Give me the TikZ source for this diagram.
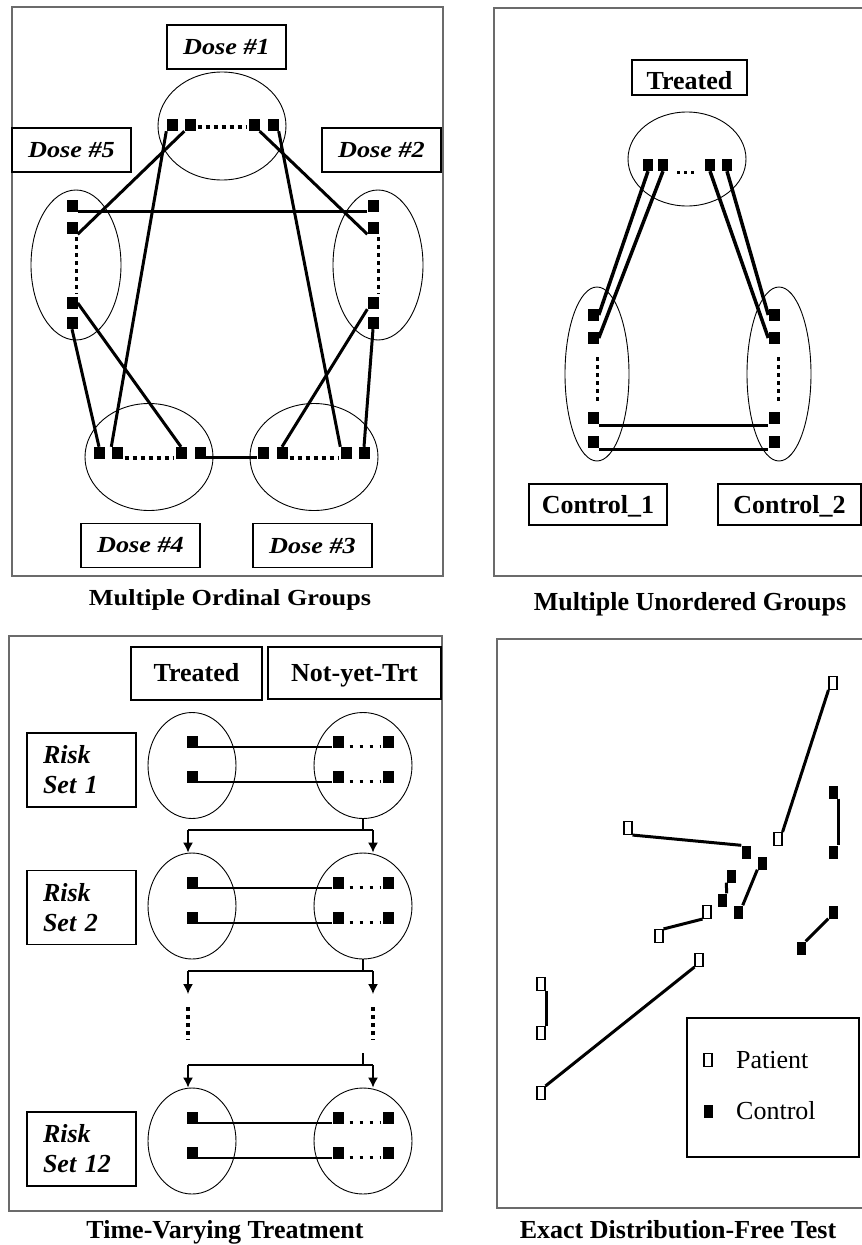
\documentclass[tikz,border=0pt]{standalone}
\usepackage{fontspec}
\setmainfont{Liberation Serif}
\newfontfamily\tlfont{Liberation Serif}[FakeStretch=1.14]
\usetikzlibrary{shapes.geometric,arrows.meta,calc,backgrounds}
\begin{document}
\begin{tikzpicture}[x=1pt,y=-1pt,
  sq/.style={fill=black, inner sep=0pt, minimum width=11pt, minimum height=12pt},
  ell/.style={draw, ellipse, line width=0.9pt, inner sep=0pt},
  frame/.style={draw=black!58, line width=1.2pt},
  conn/.style={line width=3pt},
  tconn/.style={line width=3.5pt},
  thinconn/.style={line width=1.6pt},
  dotsv/.style={line width=3.2pt, dash pattern=on 4pt off 4pt},
  smalldots/.style={line width=3.2pt, dash pattern=on 3pt off 7pt},
  arr/.style={line width=1.4pt, -{Latex[length=10pt,width=10pt]}},
  stem/.style={line width=1.4pt},
  dlab/.style={draw, line width=1.1pt, inner sep=0pt, minimum width=119pt, minimum height=44pt, font=\tlfont\fontsize{23}{27}\selectfont\bfseries\itshape},
  blab/.style={draw, line width=1.1pt, inner sep=0pt, text height=18pt, text depth=3pt, font=\fontsize{26}{30}\selectfont\bfseries},
  rlab/.style={draw, line width=1.1pt, inner xsep=16pt, inner ysep=0pt, minimum width=109pt, minimum height=74pt, text width=77pt, align=left, font=\fontsize{26}{30}\selectfont\bfseries\itshape},
  captxt/.style={anchor=base, font=\fontsize{26}{30}\selectfont\bfseries},
  pat/.style={draw, line width=1.1pt, fill=white, inner sep=0pt, minimum width=8pt, minimum height=13pt},
  ctl/.style={fill=black, inner sep=0pt, minimum width=9pt, minimum height=13pt},
  pl/.style={line width=3pt},
  legtxt/.style={anchor=west, inner sep=0pt, font=\fontsize{26}{30}\selectfont}
]
\useasboundingbox (0,0) rectangle (862,1245);

% ================= Panel 1: Multiple Ordinal Groups =================
\draw[frame] (12,7) rectangle (443,576);
\node[dlab] (D1) at (226.5,47) {Dose \#1};
\node[dlab] (D5) at (71.5,150) {Dose \#5};
\node[dlab] (D2) at (381.5,150) {Dose \#2};
\node[dlab] (D4) at (140.5,545.5) {Dose \#4};
\node[dlab] (D3) at (312.5,545.5) {Dose \#3};

\node[ell, minimum width=128pt, minimum height=108pt] (E1) at (222,126) {};
\node[ell, minimum width=90pt, minimum height=150pt] (E5) at (76,265) {};
\node[ell, minimum width=90pt, minimum height=150pt] (E2) at (378,265) {};
\node[ell, minimum width=128pt, minimum height=107pt] (E4) at (149,457) {};
\node[ell, minimum width=128pt, minimum height=107pt] (E3) at (314,457) {};

\node[sq] (a1) at (172,125) {};
\node[sq] (a2) at (190,125) {};
\node[sq] (a3) at (254,125) {};
\node[sq] (a4) at (273,125) {};
\node[sq] (e1) at (72,206) {};
\node[sq] (e2) at (72,228) {};
\node[sq] (e3) at (72,303) {};
\node[sq] (e4) at (72,323) {};
\node[sq] (b1) at (373,206) {};
\node[sq] (b2) at (373,228) {};
\node[sq] (b3) at (373,303) {};
\node[sq] (b4) at (373,323) {};
\node[sq] (d1) at (99,453) {};
\node[sq] (d2) at (117,453) {};
\node[sq] (d3) at (181,453) {};
\node[sq] (d4) at (200,453) {};
\node[sq] (c1) at (263,453) {};
\node[sq] (c2) at (282,453) {};
\node[sq] (c3) at (346,453) {};
\node[sq] (c4) at (364,453) {};

\begin{scope}[on background layer]
\draw[conn] (a1.south west) -- (d2.north west);
\draw[conn] (a2.south west) -- (e2.south east);
\draw[conn] (a3.south east) -- (b2.south west);
\draw[conn] (a4.south east) -- (c3.north west);
\draw[conn] ($(e1.south east)+(0,-1)$) -- ($(b1.south west)+(0,-1)$);
\draw[conn] (e3.east) -- (d3.north);
\draw[conn] (e4.south) -- (d1.north);
\draw[conn] (b3.south west) -- (c2.north);
\draw[conn] (b4.south) -- (c4.north);
\draw[conn] ($(d4.south east)+(0,-1.5)$) -- ($(c1.south west)+(0,-1.5)$);
\draw[dotsv] ($(a2.east)+(2,2)$) -- ($(a3.west)+(-1,2)$);
\draw[dotsv] ($(d2.east)+(2,5)$) -- ($(d3.west)+(-1,5)$);
\draw[dotsv] ($(c2.east)+(2,5)$) -- ($(c3.west)+(-1,5)$);
\draw[dotsv] ($(e2.south east)+(-1,3)$) -- ($(e3.north east)+(-1,-3)$);
\draw[dotsv] ($(b2.south east)+(-0.5,3)$) -- ($(b3.north east)+(-0.5,-3)$);
\end{scope}

\node[captxt, font=\tlfont\fontsize{23}{27}\selectfont\bfseries] (cap1) at (230,605) {Multiple Ordinal Groups};

% ================= Panel 2: Multiple Unordered Groups =================
\draw[frame] (494,8) rectangle (880,576);
\node[blab, minimum width=115pt, minimum height=35pt, text height=24pt, text depth=1pt] (TT) at (689.5,77.5) {Treated};
\node[blab, minimum width=138pt, minimum height=41pt, text height=20pt, text depth=3pt] (C1) at (598,504.5) {Control\_1};
\node[blab, minimum width=143pt, minimum height=41pt, text height=20pt, text depth=3pt] (C2) at (789.5,504.5) {Control\_2};

\node[ell, minimum width=118pt, minimum height=94pt] (ET) at (687,159) {};
\node[ell, minimum width=64pt, minimum height=174pt] (EC1) at (597,374) {};
\node[ell, minimum width=64pt, minimum height=174pt] (EC2) at (779,374) {};

\node[sq, minimum width=10pt] (t1) at (648,165) {};
\node[sq, minimum width=10pt] (t2) at (663,165) {};
\node[sq, minimum width=10pt] (t3) at (710,165) {};
\node[sq, minimum width=10pt] (t4) at (727,165) {};
\node[sq] (l1) at (593,315) {};
\node[sq] (l2) at (593,338) {};
\node[sq] (l3) at (593,418) {};
\node[sq] (l4) at (593,442) {};
\node[sq] (r1) at (774,315) {};
\node[sq] (r2) at (774,338) {};
\node[sq] (r3) at (774,418) {};
\node[sq] (r4) at (774,442) {};

\begin{scope}[on background layer]
\draw[tconn] (t1.south) -- (l1.east);
\draw[tconn] (t2.south) -- (l2.east);
\draw[tconn] (t3.south) -- (r2.west);
\draw[tconn] (t4.south) -- (r1.west);
\draw[tconn] ($(l3.south east)+(0,1.5)$) -- ($(r3.south west)+(0,1.5)$);
\draw[tconn] ($(l4.south east)+(0,1.5)$) -- ($(r4.south west)+(0,1.5)$);
\draw[dotsv, dash pattern=on 3pt off 4pt] ($(t2.south east)+(9,1)$) -- ($(t3.south west)+(-7,1)$);
\draw[dotsv] ($(l2.south east)+(-1.5,13)$) -- ($(l3.north east)+(-1.5,-9)$);
\draw[dotsv] ($(r2.south east)+(-1.5,13)$) -- ($(r3.north east)+(-1.5,-9)$);
\end{scope}

\node[captxt] (cap2) at (690,610) {Multiple Unordered Groups};

% ================= Panel 3: Time-Varying Treatment =================
\draw[frame] (9,636) rectangle (442,1211);
\node[blab, minimum width=131pt, minimum height=53pt] (HT) at (196.5,673.5) {Treated};
\node[blab, minimum width=173pt, minimum height=52pt, text height=19pt] (HN) at (354.5,673) {Not-yet-Trt};
\node[rlab] (RS1) at (81.5,770) {Risk\\Set 1};
\node[rlab] (RS2) at (81.5,907.5) {Risk\\Set 2};
\node[rlab] (RS12) at (81.5,1149) {Risk\\Set 12};

\node[ell, minimum width=88pt, minimum height=106pt] (R1l) at (192,765.5) {};
\node[ell, minimum width=98pt, minimum height=106pt] (R1r) at (363,765.5) {};
\node[ell, minimum width=88pt, minimum height=106pt] (R2l) at (192,906) {};
\node[ell, minimum width=98pt, minimum height=106pt] (R2r) at (363,906) {};
\node[ell, minimum width=88pt, minimum height=106pt] (R12l) at (192,1141) {};
\node[ell, minimum width=98pt, minimum height=106pt] (R12r) at (363,1141) {};

\foreach \n/\yy in {1a/742,1b/777,2a/883,2b/918,12a/1118,12b/1153}{
  \node[sq] (s\n) at (192,\yy) {};
  \node[sq] (u\n) at (338,\yy) {};
  \node[sq] (w\n) at (388,\yy) {};
}

\coordinate (k1) at (363,830);
\coordinate (k1L) at (188,830);
\coordinate (k1R) at (373,830);
\coordinate (k2) at (363,971);
\coordinate (k2L) at (188,971);
\coordinate (k2R) at (373,971);
\coordinate (k2Le) at (188,994);
\coordinate (k2Re) at (373,994);
\coordinate (v1a) at (188,1007);
\coordinate (v1b) at (188,1040);
\coordinate (v2a) at (373,1007);
\coordinate (v2b) at (373,1040);
\coordinate (k3s) at (363,1053);
\coordinate (k3) at (363,1065);
\coordinate (k3L) at (188,1065);
\coordinate (k3R) at (373,1065);

\begin{scope}[on background layer]
\foreach \n in {1a,1b,2a,2b,12a,12b}{
  \draw[thinconn] ($(s\n.south east)+(0,-1)$) -- ($(u\n.south west)+(0,-1)$);
  \draw[smalldots] ($(u\n.south east)+(6,-1.5)$) -- ($(w\n.south west)+(-1,-1.5)$);
}
\end{scope}

\draw[stem, line width=2.2pt] (R1r.south) -- (k1);
\draw[stem] (k1L) -- (k1R);
\draw[arr] (k1L) -- (R2l.north -| k1L);
\draw[arr] (k1R) -- (R2r.north -| k1R);
\draw[stem, line width=2.2pt] (R2r.south) -- (k2);
\draw[stem] (k2L) -- (k2R);
\draw[arr] (k2L) -- (k2Le);
\draw[arr] (k2R) -- (k2Re);
\draw[dotsv] (v1a) -- (v1b);
\draw[dotsv] (v2a) -- (v2b);
\draw[stem, line width=2.2pt] (k3s) -- (k3);
\draw[stem] (k3L) -- (k3R);
\draw[arr] (k3L) -- (R12l.north -| k3L);
\draw[arr] (k3R) -- (R12r.north -| k3R);

\node[captxt] (cap3) at (225,1238) {Time-Varying Treatment};

% ================= Panel 4: Exact Distribution-Free Test =================
\draw[frame] (497,639) rectangle (880,1208);
\node[draw, line width=1.1pt, minimum width=172pt, minimum height=139pt, inner sep=0pt] (LEG) at (773,1087.5) {};
\node[pat] (lp) at (708,1060) {};
\node[legtxt] (lpt) at (736,1060) {Patient};
\node[ctl] (lc) at (708,1111) {};
\node[legtxt] (lct) at (736,1111) {Control};

\node[pat] (p1) at (833,683) {};
\node[pat] (p2) at (778,839) {};
\node[ctl] (f1) at (833,792) {};
\node[ctl] (f2) at (833,852) {};
\node[pat] (p3) at (628,828) {};
\node[ctl] (f3) at (746,852) {};
\node[ctl] (f4) at (762,863) {};
\node[ctl] (f5) at (738,912) {};
\node[ctl] (f6) at (731,876) {};
\node[ctl] (f7) at (722,900) {};
\node[pat] (p4) at (707,912) {};
\node[pat] (p5) at (659,936) {};
\node[ctl] (f8) at (833,912) {};
\node[ctl] (f9) at (801,948) {};
\node[pat] (p6) at (699,960) {};
\node[pat] (p7) at (541,1093) {};
\node[pat] (p8) at (541,984) {};
\node[pat] (p9) at (541,1033) {};

\begin{scope}[on background layer]
\draw[pl] (p1.south west) -- (p2.north east);
\draw[pl] ($(f1.south east)+(1,0)$) -- ($(f2.north east)+(1,0)$);
\draw[pl] (p3.south east) -- (f3.north west);
\draw[pl] (f4.south west) -- (f5.north east);
\draw[pl] (f6.south west) -- (f7.north east);
\draw[pl] (p4.south west) -- (p5.north east);
\draw[pl] (f8.south west) -- (f9.north east);
\draw[pl] (p6.south west) -- (p7.north east);
\draw[pl] ($(p8.south east)+(1,0)$) -- ($(p9.north east)+(1,0)$);
\end{scope}

\node[captxt] (cap4) at (678,1238) {Exact Distribution-Free Test};
\end{tikzpicture}
\end{document}
